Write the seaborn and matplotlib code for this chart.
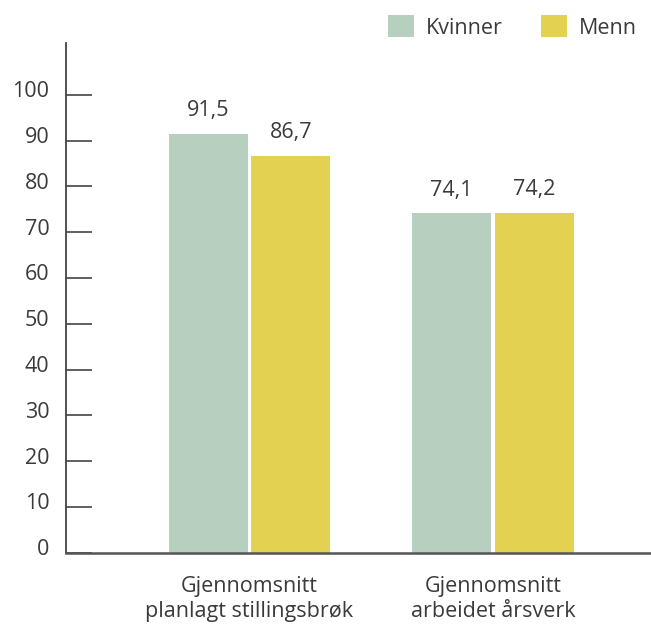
import matplotlib
matplotlib.use("Agg")
import matplotlib.pyplot as plt
import matplotlib.transforms as mtransforms
from matplotlib.patches import Patch
import seaborn as sns
import pandas as pd

categories = ["Gjennomsnitt\nplanlagt stillingsbrøk", "Gjennomsnitt\narbeidet årsverk"]
groups = ["Kvinner", "Menn"]
kvinner = [91.5, 74.1]
menn = [86.7, 74.2]
labels_k = ["91,5", "74,1"]
labels_m = ["86,7", "74,2"]
yticks = [0, 10, 20, 30, 40, 50, 60, 70, 80, 90, 100]
colors = {"Kvinner": "#b6cfbf", "Menn": "#e3d152"}

df = pd.DataFrame({
    "kategori": categories * 2,
    "kjønn": ["Kvinner"] * 2 + ["Menn"] * 2,
    "verdi": kvinner + menn,
    "tekst": labels_k + labels_m,
})

sns.set_style("white")
plt.rcParams["font.family"] = ["Open Sans", "DejaVu Sans"]
text_color = "#3a3a3a"
fs = 15.5

fig = plt.figure(figsize=(6.51, 6.25), dpi=100)
ax = fig.add_axes([66 / 651, 1 - 552.7 / 625, 584 / 651, (552.7 - 43) / 625])

sns.barplot(data=df, x="kategori", y="verdi", hue="kjønn", hue_order=groups,
            palette=colors, width=0.678, gap=0.045, ax=ax, legend=False,
            saturation=1, linewidth=0)

for container, texts in zip(ax.containers, [labels_k, labels_m]):
    for bar, t in zip(container, texts):
        ax.annotate(t, (bar.get_x() + bar.get_width() / 2, bar.get_height()),
                    xytext=(0, 9), textcoords="offset points",
                    ha="center", va="bottom", fontsize=fs, color=text_color)

ax.set_ylim(0, 111.3)
ax.set_xlim(-0.754, 1.645)
ax.set_yticks(yticks)
ax.set_yticklabels([str(v) for v in yticks])
ax.set_xlabel("")
ax.set_ylabel("")

ax.tick_params(axis="y", direction="in", length=19, width=1.2, color="#444444",
               pad=12, labelsize=fs, labelcolor=text_color, left=True)
ax.tick_params(axis="x", length=0, pad=17, labelsize=fs, labelcolor=text_color)
for lab in ax.get_xticklabels():
    lab.set_linespacing(1.25)

offset = mtransforms.ScaledTranslation(0, 4 / 72, fig.dpi_scale_trans)
for lab in ax.get_yticklabels():
    lab.set_transform(lab.get_transform() + offset)

for s in ["top", "right"]:
    ax.spines[s].set_visible(False)
ax.spines["left"].set_color("#444444")
ax.spines["left"].set_linewidth(1.3)
ax.spines["bottom"].set_color("#555555")
ax.spines["bottom"].set_linewidth(1.8)

handles = [Patch(facecolor=colors[g], edgecolor="none", label=g) for g in groups]
fig.legend(handles=handles, loc="center right", bbox_to_anchor=(637 / 651, 1 - 27 / 625),
           ncol=2, frameon=False, fontsize=fs, handlelength=1.2, handleheight=1.2,
           handletextpad=0.55, columnspacing=1.8, borderpad=0, borderaxespad=0,
           labelcolor=text_color)

fig.savefig("out.png", dpi=100)
